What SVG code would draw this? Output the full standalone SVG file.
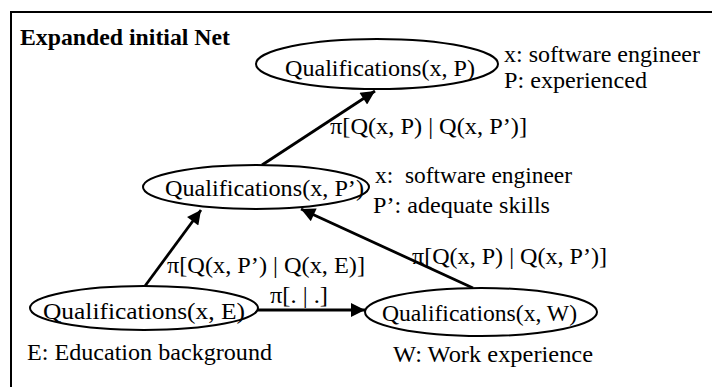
<svg xmlns="http://www.w3.org/2000/svg" width="712" height="387" viewBox="0 0 712 387">
<defs>
<style>
text{font-size:24px;fill:#000}
.title{font-weight:bold}
.node ellipse{fill:#fff;stroke:#000;stroke-width:2}
.edge{stroke:#000;stroke-width:2.8;fill:none}
</style>
<marker id="ah" viewBox="0 0 10 10" refX="10" refY="5" markerWidth="6.5" markerHeight="5" markerUnits="strokeWidth" orient="auto">
<path d="M0,0 L10,5 L0,10 z" fill="#000"/>
</marker>
</defs>
<rect width="712" height="387" fill="#fff"/>
<path d="M11,387 V12 H712" fill="none" stroke="#000" stroke-width="2"/>
<g font-family="Liberation Serif, serif">
<text class="title" x="20" y="45" textLength="210" lengthAdjust="spacingAndGlyphs">Expanded initial Net</text>

<g id="connectors">
<line class="edge" x1="262" y1="165" x2="375" y2="91" marker-end="url(#ah)"/>
<line class="edge" x1="145" y1="286" x2="201" y2="210" marker-end="url(#ah)"/>
<line class="edge" x1="473" y1="288" x2="301" y2="209" marker-end="url(#ah)"/>
<line class="edge" x1="258" y1="310" x2="365" y2="310" marker-end="url(#ah)"/>
<text x="330" y="134" textLength="197" lengthAdjust="spacingAndGlyphs">π[Q(x, P) | Q(x, P’)]</text>
<text x="167" y="273" textLength="198" lengthAdjust="spacingAndGlyphs">π[Q(x, P’) | Q(x, E)]</text>
<text x="270" y="303" textLength="58" lengthAdjust="spacingAndGlyphs">π[. | .]</text>
<text x="412" y="264" textLength="195" lengthAdjust="spacingAndGlyphs">π[Q(x, P) | Q(x, P’)]</text>
</g>

<g id="node-top" class="node">
<ellipse cx="377" cy="64" rx="121" ry="25"/>
<text x="285" y="76" textLength="190" lengthAdjust="spacingAndGlyphs">Qualifications(x, P)</text>
<text x="504" y="62" textLength="196" lengthAdjust="spacingAndGlyphs">x: software engineer</text>
<text x="504" y="88" textLength="143" lengthAdjust="spacingAndGlyphs">P: experienced</text>
</g>

<g id="node-middle" class="node">
<ellipse cx="256" cy="187" rx="113" ry="22"/>
<text x="165" y="196" textLength="199" lengthAdjust="spacingAndGlyphs">Qualifications(x, P’)</text>
<text x="375" y="183" xml:space="preserve" textLength="197" lengthAdjust="spacingAndGlyphs">x:  software engineer</text>
<text x="373" y="213" textLength="177" lengthAdjust="spacingAndGlyphs">P’: adequate skills</text>
</g>

<g id="node-e" class="node">
<ellipse cx="144" cy="308" rx="114" ry="22"/>
<text x="43" y="319" textLength="202" lengthAdjust="spacingAndGlyphs">Qualifications(x, E)</text>
<text x="27" y="360" textLength="245" lengthAdjust="spacingAndGlyphs">E: Education background</text>
</g>

<g id="node-w" class="node">
<ellipse cx="481" cy="312" rx="116" ry="24"/>
<text x="382" y="321" textLength="195" lengthAdjust="spacingAndGlyphs">Qualifications(x, W)</text>
<text x="393" y="362" textLength="200" lengthAdjust="spacingAndGlyphs">W: Work experience</text>
</g>
</g>
</svg>
